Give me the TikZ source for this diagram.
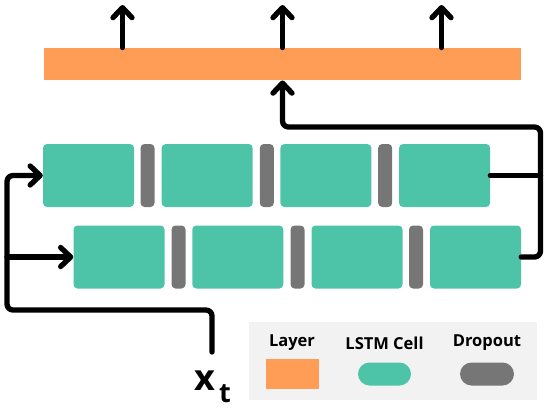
\documentclass[tikz,border=0pt]{standalone}
\usepackage{fontspec}
\setmainfont{Open Sans}
\usetikzlibrary{arrows.meta}
\definecolor{layerc}{HTML}{FF9C55}
\definecolor{cellc}{HTML}{4DC4A8}
\definecolor{dropc}{HTML}{767676}
\definecolor{legbg}{HTML}{F2F2F2}
\tikzset{
  cellbox/.style={fill=cellc, draw=none, rounded corners=4pt, minimum width=91pt, minimum height=63pt, inner sep=0pt},
  dropbox/.style={fill=dropc, draw=none, rounded corners=4pt, minimum width=14pt, minimum height=63pt, inner sep=0pt},
  conn/.style={line width=5.3pt, line cap=round, line join=round, rounded corners=6pt},
  arr/.style={conn, -{Straight Barb[length=10pt,width=19pt,round]}},
  lab/.style={font=\fontsize{16.5}{18}\selectfont\bfseries, inner sep=0pt}
}
\begin{document}
\begin{tikzpicture}[x=1pt,y=-1pt]
\useasboundingbox (0,0) rectangle (550,408);
% layer bar
\node[fill=layerc, minimum width=477pt, minimum height=32.5pt, inner sep=0pt] (bar) at (282.5,64) {};
\coordinate (o1) at (122.5,5);
\coordinate (o2) at (282.5,5);
\coordinate (o3) at (441.5,5);
\draw[arr] (bar.north -| o1) -- (o1);
\draw[arr] (bar.north -| o2) -- (o2);
\draw[arr] (bar.north -| o3) -- (o3);
% top row
\node[cellbox] (a1) at (88.5,175.5) {};
\node[dropbox] (da1) at (147.5,175.5) {};
\node[cellbox] (a2) at (207.2,175.5) {};
\node[dropbox] (da2) at (266.8,175.5) {};
\node[cellbox] (a3) at (325.9,175.5) {};
\node[dropbox] (da3) at (385.2,175.5) {};
\node[cellbox] (a4) at (444.6,175.5) {};
% bottom row
\node[cellbox] (b1) at (119,257) {};
\node[dropbox] (db1) at (178.5,257) {};
\node[cellbox] (b2) at (237.8,257) {};
\node[dropbox] (db2) at (297.5,257) {};
\node[cellbox] (b3) at (357,257) {};
\node[dropbox] (db3) at (416,257) {};
\node[cellbox] (b4) at (475.5,257) {};
% right connectors
\coordinate (rj) at (540.5,175.5);
\draw[conn] (a4.east) -- (rj);
\draw[arr] (b4.east) -- (540.5,257) -- (540.5,127) -- (282.5,127) -- (bar.south -| o2);
% input
\node[inner sep=0pt, anchor=base west] (x) at (194,390) {\fontsize{36}{40}\selectfont\bfseries x\kern4pt\raisebox{-12pt}{\fontsize{27}{30}\selectfont t}};
\coordinate (xin) at (212,352);
\coordinate (lj) at (7,257);
\draw[arr] (xin) -- (212,310) -- (7,310) -- (7,175.5) -- (a1.west);
\draw[arr] (lj) -- (b1.west);
% legend
\node[fill=legbg, minimum width=288pt, minimum height=78pt, inner sep=0pt] (leg) at (393,361) {};
\node[lab] (l1) at (292,343) {Layer};
\node[lab] (l2) at (384.5,343) {LSTM Cell};
\node[lab] (l3) at (487,343) {Dropout};
\node[fill=layerc, minimum width=53pt, minimum height=30pt, inner sep=0pt] (s1) at (292,374) {};
\node[fill=cellc, rounded corners=11.5pt, minimum width=53pt, minimum height=23pt, inner sep=0pt] (s2) at (384.5,374) {};
\node[fill=dropc, rounded corners=11.5pt, minimum width=54pt, minimum height=23pt, inner sep=0pt] (s3) at (487,374) {};
\end{tikzpicture}
\end{document}
